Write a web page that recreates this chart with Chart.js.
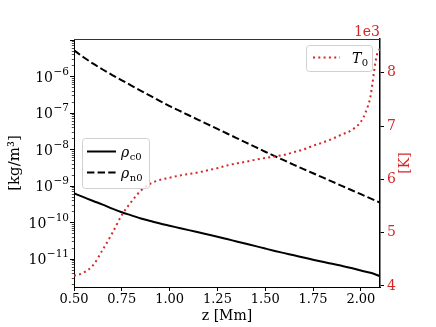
<!DOCTYPE html>
<html>
<head>
<meta charset="utf-8">
<script src="https://cdn.jsdelivr.net/npm/chart.js@4/dist/chart.umd.min.js"></script>
<style>
html,body{margin:0;padding:0;background:#fff;}
#wrap{width:436px;height:327px;position:relative;}
</style>
</head>
<body>
<div id="wrap"><canvas id="c" width="436" height="327"></canvas></div>
<script>
// ---- data ----
const z = [0.50,0.55,0.60,0.65,0.70,0.75,0.80,0.85,0.90,0.95,1.00,1.05,1.10,1.15,1.20,1.25,1.30,1.35,1.40,1.45,1.50,1.55,1.60,1.65,1.70,1.75,1.80,1.85,1.90,1.95,2.00,2.05,2.10];
const rhoC = [6.17e-10,4.84e-10,3.80e-10,3.02e-10,2.34e-10,1.86e-10,1.53e-10,1.26e-10,1.07e-10,9.12e-11,7.94e-11,6.92e-11,6.03e-11,5.25e-11,4.57e-11,3.98e-11,3.43e-11,2.95e-11,2.54e-11,2.19e-11,1.88e-11,1.62e-11,1.41e-11,1.23e-11,1.07e-11,9.33e-12,8.13e-12,7.16e-12,6.31e-12,5.50e-12,4.68e-12,4.07e-12,3.31e-12];
const rhoN = [5.13e-6,3.31e-6,2.21e-6,1.53e-6,1.08e-6,7.76e-7,5.56e-7,3.98e-7,2.88e-7,2.09e-7,1.51e-7,1.14e-7,8.51e-8,6.38e-8,4.79e-8,3.59e-8,2.69e-8,2.02e-8,1.51e-8,1.14e-8,8.51e-9,6.46e-9,4.90e-9,3.72e-9,2.85e-9,2.19e-9,1.68e-9,1.29e-9,9.89e-10,7.59e-10,5.82e-10,4.47e-10,3.43e-10];
const zT = [0.50,0.55,0.60,0.65,0.70,0.75,0.80,0.85,0.90,0.95,1.00,1.05,1.10,1.15,1.20,1.25,1.30,1.35,1.40,1.45,1.50,1.55,1.60,1.65,1.70,1.75,1.80,1.85,1.90,1.95,2.00,2.025,2.05,2.06,2.07,2.085,2.10];
const T0 = [4190,4250,4390,4680,4990,5330,5580,5790,5920,5990,6030,6070,6100,6130,6170,6210,6260,6300,6330,6370,6400,6430,6460,6510,6560,6630,6690,6760,6840,6920,7080,7260,7550,7780,8050,8350,8450];
const xTicks = [0.50,0.75,1.00,1.25,1.50,1.75,2.00];
const leftDecades = [-11,-10,-9,-8,-7,-6];
const rightTicks = [4000,5000,6000,7000,8000];
const seriesLabels = ['\u03C1', '\u03C1', 'T'];
const subLabels = ['c0','n0','0'];
const xTitle = 'z [Mm]';
const yTitle = '[kg/m\u00B3]';
const y2Title = '[K]';
const offsetText = '1e3';

const RED = '#d62728';
const SERIF = "'DejaVu Serif', 'Liberation Serif', serif";

const pts = (xs, ys) => xs.map((x,i)=>({x:x, y:ys[i]}));

const decorPlugin = {
  id: 'decor',
  afterDraw(chart) {
    const ctx = chart.ctx;
    const ca = chart.chartArea;
    const ys = chart.scales.y;
    ctx.save();
    // top spine
    ctx.strokeStyle = '#333';
    ctx.lineWidth = 1;
    ctx.beginPath();
    ctx.moveTo(ca.left, ca.top + 0.5);
    ctx.lineTo(ca.right, ca.top + 0.5);
    ctx.stroke();
    // left log ticks
    ctx.strokeStyle = '#000';
    const lmin = Math.log10(ys.min), lmax = Math.log10(ys.max);
    for (let n = Math.floor(lmin); n <= Math.ceil(lmax); n++) {
      for (let k = 1; k <= 9; k++) {
        const v = k * Math.pow(10, n);
        const lv = Math.log10(v);
        if (lv < lmin || lv > lmax) continue;
        const py = Math.round(ys.getPixelForValue(v)) + 0.5;
        ctx.beginPath();
        ctx.lineWidth = k === 1 ? 1 : 0.7;
        ctx.moveTo(ca.left, py);
        ctx.lineTo(ca.left - (k === 1 ? 4 : 2.2), py);
        ctx.stroke();
      }
    }
    // left tick labels 10^n
    ctx.fillStyle = '#000';
    leftDecades.forEach(n => {
      const py = ys.getPixelForValue(Math.pow(10, n));
      const expo = '\u2212' + Math.abs(n);
      ctx.font = '10.5px ' + SERIF;
      ctx.textAlign = 'right';
      ctx.textBaseline = 'alphabetic';
      const ew = ctx.measureText(expo).width;
      const xr = ca.left - 5;
      ctx.fillText(expo, xr, py - 1.5);
      ctx.font = '14px ' + SERIF;
      ctx.fillText('10', xr - ew - 0.5, py + 5.5);
    });
    // axis titles
    ctx.font = '14px ' + SERIF;
    ctx.textAlign = 'center';
    ctx.textBaseline = 'middle';
    ctx.fillText(xTitle, (ca.left + ca.right) / 2, 316.5);
    ctx.save();
    ctx.translate(15, (ca.top + ca.bottom) / 2);
    ctx.rotate(-Math.PI / 2);
    ctx.font = '15px ' + SERIF;
    ctx.fillText(yTitle, 0, 0);
    ctx.restore();
    ctx.save();
    ctx.fillStyle = RED;
    ctx.translate(405, (ca.top + ca.bottom) / 2);
    ctx.rotate(-Math.PI / 2);
    ctx.font = '14px ' + SERIF;
    ctx.fillText(y2Title, 0, 0);
    ctx.restore();
    // offset text
    ctx.fillStyle = RED;
    ctx.font = '14px ' + SERIF;
    ctx.textAlign = 'right';
    ctx.textBaseline = 'alphabetic';
    ctx.fillText(offsetText, ca.right, 36);
    // legends
    const box = (x, y, w, h) => {
      ctx.beginPath();
      ctx.roundRect(x + 0.5, y + 0.5, w, h, 3);
      ctx.fillStyle = 'rgba(255,255,255,0.8)';
      ctx.fill();
      ctx.strokeStyle = '#d0d0d0';
      ctx.lineWidth = 1;
      ctx.stroke();
    };
    const label = (main, sub, x, y, color) => {
      ctx.fillStyle = color;
      ctx.textAlign = 'left';
      ctx.textBaseline = 'alphabetic';
      ctx.font = 'italic 14px ' + SERIF;
      ctx.fillText(main, x, y);
      const w = ctx.measureText(main).width;
      ctx.font = '10px ' + SERIF;
      ctx.fillText(sub, x + w + 0.5, y + 2.5);
    };
    const sample = (x1, x2, y, dash, color) => {
      ctx.beginPath();
      ctx.setLineDash(dash);
      ctx.strokeStyle = color;
      ctx.lineWidth = 2;
      ctx.moveTo(x1, y);
      ctx.lineTo(x2, y);
      ctx.stroke();
      ctx.setLineDash([]);
    };
    box(82, 138, 67, 50);
    sample(87, 116, 151.5, [], '#000');
    sample(87, 116, 172.5, [7.4, 3.2], '#000');
    label(seriesLabels[0], subLabels[0], 121, 157, '#000');
    label(seriesLabels[1], subLabels[1], 121, 178, '#000');
    box(306, 45, 66, 26);
    sample(313, 340, 57.5, [2, 3.3], RED);
    label(seriesLabels[2], subLabels[2], 352, 63, '#000');
    ctx.restore();
  }
};

new Chart(document.getElementById('c'), {
  type: 'line',
  data: {
    datasets: [
      { label: 'rho_c0', data: pts(z, rhoC), yAxisID: 'y', borderColor: '#000', borderWidth: 2,
        pointRadius: 0, fill: false, cubicInterpolationMode: 'monotone', order: 2 },
      { label: 'rho_n0', data: pts(z, rhoN), yAxisID: 'y', borderColor: '#000', borderWidth: 2,
        borderDash: [7.4, 3.2], pointRadius: 0, fill: false, cubicInterpolationMode: 'monotone', order: 1 },
      { label: 'T_0', data: pts(zT, T0), yAxisID: 'y2', borderColor: RED, borderWidth: 2,
        borderDash: [2, 3.3], pointRadius: 0, fill: false, cubicInterpolationMode: 'monotone', order: 0 }
    ]
  },
  options: {
    responsive: false,
    animation: false,
    events: [],
    layout: { padding: { top: 39, left: 0, right: 0, bottom: 0 } },
    plugins: { legend: { display: false }, tooltip: { enabled: false } },
    scales: {
      x: {
        type: 'linear', min: 0.5, max: 2.10,
        afterBuildTicks: s => { s.ticks = xTicks.map(v => ({ value: v })); },
        afterFit: s => { s.height = 40; },
        ticks: { color: '#000', font: { family: SERIF, size: 13 }, padding: 1,
                 maxRotation: 0, autoSkip: false, callback: v => v.toFixed(2) },
        grid: { drawOnChartArea: false, tickLength: 4, color: '#000', lineWidth: 1 },
        border: { color: '#000', width: 1 }
      },
      y: {
        type: 'logarithmic', position: 'left', min: 1.66e-12, max: 1.05e-5,
        afterFit: s => { s.width = 74; },
        ticks: { display: false },
        grid: { display: false },
        border: { color: '#000', width: 1 }
      },
      y2: {
        type: 'linear', position: 'right', min: 3981, max: 8632,
        afterBuildTicks: s => { s.ticks = rightTicks.map(v => ({ value: v })); },
        afterFit: s => { s.width = 56; },
        ticks: { color: RED, font: { family: SERIF, size: 14 }, padding: 3,
                 autoSkip: false, callback: v => String(v / 1000) },
        grid: { drawOnChartArea: false, tickLength: 4, color: '#000', lineWidth: 1 },
        border: { color: '#000', width: 1.5 }
      }
    }
  },
  plugins: [decorPlugin]
});
</script>
</body>
</html>
